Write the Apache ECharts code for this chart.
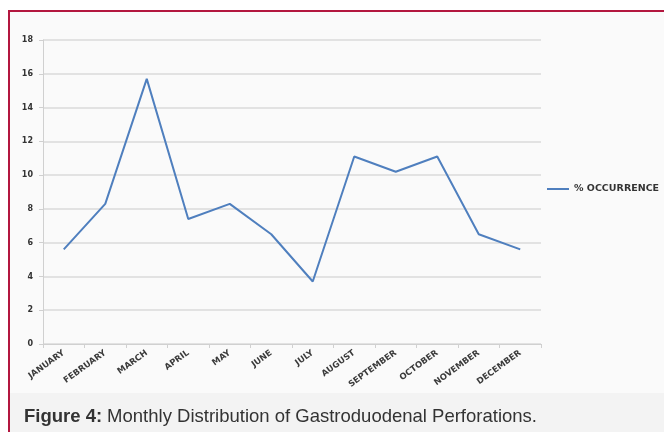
<!DOCTYPE html>
<html>
<head>
<meta charset="utf-8">
<script src="https://cdn.jsdelivr.net/npm/echarts@6/dist/echarts.min.js"></script>
<style>
    html, body { margin: 0; padding: 0; background: #fff; }
    #wrap { position: relative; width: 664px; height: 432px; overflow: hidden; }
    #frame {
        position: absolute; left: 8px; top: 10px; right: -10px; bottom: -10px;
        border-left: 2px solid #b3173f; border-top: 2px solid #b3173f;
        background: #fafafa;
    }
    #cap {
        position: absolute; left: 10px; top: 393px; right: 0; bottom: 0;
        background: #f3f3f3;
    }
    #chart { position: absolute; left: 0; top: 0; width: 664px; height: 432px; }
</style>
</head>
<body>
<div id="wrap">
    <div id="frame"></div>
    <div id="cap"></div>
    <div id="chart"></div>
</div>
<script>
// 月份
var months = ['JANUARY', 'FEBRUARY', 'MARCH', 'APRIL', 'MAY', 'JUNE', 'JULY',
    'AUGUST', 'SEPTEMBER', 'OCTOBER', 'NOVEMBER', 'DECEMBER'];
// % occurrence
var occurrence = [5.6, 8.3, 15.7, 7.4, 8.3, 6.5, 3.7, 11.1, 10.2, 11.1, 6.5, 5.6];
var seriesName = '% OCCURRENCE';
var caption = 'Monthly Distribution of Gastroduodenal Perforations.';

!function () {
    var myChart = echarts.init(document.getElementById('chart'), null, { renderer: 'canvas' });
    var option = {
        backgroundColor: 'transparent',
        animation: false,
        grid: {
            left: 43,
            right: 123,
            top: 40,
            bottom: 88
        },
        title: {
            left: 24,
            top: 407,
            padding: 0,
            text: '{b|Figure 4:} {n|' + caption + '}',
            textStyle: {
                rich: {
                    b: { fontFamily: 'Liberation Sans', fontWeight: 'bold', fontSize: 18.5, color: '#333' },
                    n: { fontFamily: 'Liberation Sans', fontWeight: 'normal', fontSize: 18.5, color: '#333' }
                }
            }
        },
        legend: {
            left: 547,
            top: 184,
            padding: 0,
            icon: 'path://M0,0 L22,0 L22,2 L0,2 Z',
            itemWidth: 22,
            itemHeight: 2,
            itemGap: 4,
            data: [seriesName],
            textStyle: {
                fontFamily: 'DejaVu Sans',
                fontWeight: 'bold',
                fontSize: 9.5,
                color: '#333',
                padding: [0, 0, 0, 0]
            }
        },
        xAxis: {
            type: 'category',
            data: months,
            boundaryGap: true,
            axisLine: { lineStyle: { color: '#d0d0d0', width: 1 } },
            axisTick: { show: true, length: 4, lineStyle: { color: '#d0d0d0' } },
            axisLabel: {
                rotate: 36,
                interval: 0,
                margin: 8,
                fontFamily: 'DejaVu Sans',
                fontWeight: 'bold',
                fontSize: 8.5,
                color: '#3a3a3a'
            }
        },
        yAxis: {
            type: 'value',
            min: 0,
            max: 18,
            interval: 2,
            axisLine: { show: true, lineStyle: { color: '#d0d0d0' } },
            axisTick: { show: true, length: 4, lineStyle: { color: '#d0d0d0' } },
            splitLine: { lineStyle: { color: '#dadada', width: 1.5 } },
            axisLabel: {
                margin: 10,
                fontFamily: 'DejaVu Sans',
                fontWeight: 'bold',
                fontSize: 8,
                color: '#333'
            }
        },
        series: [{
            name: seriesName,
            type: 'line',
            data: occurrence,
            symbol: 'none',
            lineStyle: { color: '#4f7fbe', width: 2 },
            itemStyle: { color: '#4f7fbe' }
        }]
    };
    myChart.setOption(option);
}();
</script>
</body>
</html>
